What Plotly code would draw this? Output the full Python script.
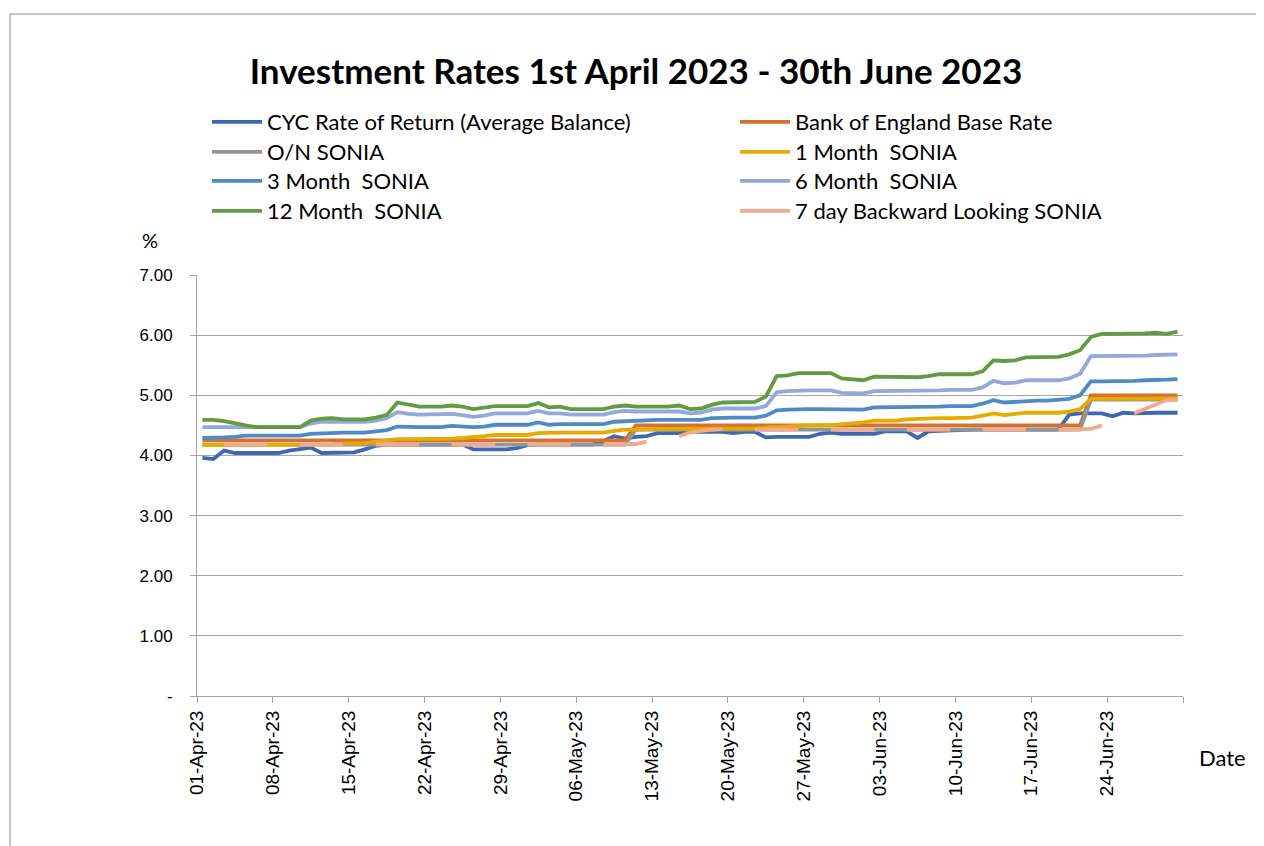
import pandas as pd
import plotly.graph_objects as go

# ---- data -------------------------------------------------------------
dates = pd.date_range("2023-04-01 12:00", "2023-06-30 12:00", freq="D")

tick_dates = ["2023-04-01", "2023-04-08", "2023-04-15", "2023-04-22", "2023-04-29",
              "2023-05-06", "2023-05-13", "2023-05-20", "2023-05-27", "2023-06-03",
              "2023-06-10", "2023-06-17", "2023-06-24", "2023-07-01"]
tick_labels = ["01-Apr-23", "08-Apr-23", "15-Apr-23", "22-Apr-23", "29-Apr-23",
               "06-May-23", "13-May-23", "20-May-23", "27-May-23", "03-Jun-23",
               "10-Jun-23", "17-Jun-23", "24-Jun-23", ""]

y_ticks = [0, 1, 2, 3, 4, 5, 6, 7]
y_labels = ["-", "1.00", "2.00", "3.00", "4.00", "5.00", "6.00", "7.00"]

cyc = [3.96, 3.94, 4.08, 4.04, 4.04, 4.04, 4.04, 4.04, 4.08, 4.11,
       4.13, 4.04, 4.04, 4.04, 4.05, 4.10, 4.16, 4.18, 4.18, 4.18,
       4.18, 4.18, 4.18, 4.18, 4.18, 4.10, 4.10, 4.10, 4.10, 4.12,
       4.17, 4.18, 4.18, 4.18, 4.18, 4.18, 4.18, 4.24, 4.32, 4.28,
       4.31, 4.32, 4.37, 4.37, 4.37, 4.39, 4.39, 4.39, 4.39, 4.37,
       4.39, 4.39, 4.30, 4.31, 4.31, 4.31, 4.31, 4.36, 4.38, 4.36,
       4.36, 4.36, 4.36, 4.40, 4.40, 4.40, 4.29, 4.40, 4.41, 4.42,
       4.43, 4.43, 4.43, 4.43, 4.43, 4.43, 4.43, 4.43, 4.43, 4.43,
       4.68, 4.70, 4.70, 4.70, 4.65, 4.71, 4.70, 4.71, 4.71, 4.71, 4.71]

boe = [4.25, 4.25, 4.25, 4.25, 4.25, 4.25, 4.25, 4.25, 4.25, 4.25,
       4.25, 4.25, 4.25, 4.25, 4.25, 4.25, 4.25, 4.25, 4.25, 4.25,
       4.25, 4.25, 4.25, 4.25, 4.25, 4.25, 4.25, 4.25, 4.25, 4.25,
       4.25, 4.25, 4.25, 4.25, 4.25, 4.25, 4.25, 4.25, 4.25, 4.25,
       4.50, 4.50, 4.50, 4.50, 4.50, 4.50, 4.50, 4.50, 4.50, 4.50,
       4.50, 4.50, 4.50, 4.50, 4.50, 4.50, 4.50, 4.50, 4.50, 4.50,
       4.50, 4.50, 4.50, 4.50, 4.50, 4.50, 4.50, 4.50, 4.50, 4.50,
       4.50, 4.50, 4.50, 4.50, 4.50, 4.50, 4.50, 4.50, 4.50, 4.50,
       4.50, 4.50, 5.00, 5.00, 5.00, 5.00, 5.00, 5.00, 5.00, 5.00, 5.00]

on_sonia = [4.18, 4.18, 4.18, 4.18, 4.18, 4.18, 4.18, 4.18, 4.18, 4.18,
            4.18, 4.18, 4.18, 4.18, 4.18, 4.18, 4.18, 4.18, 4.18, 4.18,
            4.18, 4.18, 4.18, 4.18, 4.18, 4.18, 4.18, 4.18, 4.18, 4.18,
            4.18, 4.18, 4.18, 4.18, 4.18, 4.18, 4.18, 4.18, 4.18, 4.18,
            4.43, 4.43, 4.43, 4.43, 4.43, 4.43, 4.43, 4.43, 4.43, 4.43,
            4.43, 4.43, 4.43, 4.43, 4.43, 4.43, 4.43, 4.43, 4.43, 4.43,
            4.43, 4.43, 4.43, 4.43, 4.43, 4.43, 4.43, 4.43, 4.43, 4.43,
            4.43, 4.43, 4.43, 4.43, 4.43, 4.43, 4.43, 4.43, 4.43, 4.43,
            4.43, 4.43, 4.93, 4.93, 4.93, 4.93, 4.93, 4.93, 4.93, 4.93, 4.93]

m1_sonia = [4.17, 4.17, 4.17, 4.17, 4.17, 4.17, 4.17, 4.17, 4.17, 4.17,
            4.18, 4.18, 4.18, 4.20, 4.20, 4.20, 4.23, 4.25, 4.27, 4.27,
            4.27, 4.27, 4.27, 4.28, 4.29, 4.30, 4.32, 4.34, 4.34, 4.34,
            4.34, 4.37, 4.38, 4.38, 4.38, 4.38, 4.38, 4.38, 4.41, 4.43,
            4.43, 4.44, 4.44, 4.44, 4.44, 4.45, 4.44, 4.44, 4.44, 4.44,
            4.44, 4.45, 4.46, 4.47, 4.48, 4.50, 4.50, 4.50, 4.50, 4.52,
            4.53, 4.55, 4.58, 4.58, 4.58, 4.60, 4.61, 4.61, 4.62, 4.62,
            4.62, 4.63, 4.66, 4.70, 4.67, 4.69, 4.71, 4.71, 4.71, 4.71,
            4.73, 4.77, 4.94, 4.94, 4.94, 4.94, 4.94, 4.94, 4.95, 4.95, 4.95]

m3_sonia = [4.29, 4.29, 4.30, 4.31, 4.33, 4.33, 4.33, 4.33, 4.33, 4.33,
            4.36, 4.37, 4.37, 4.38, 4.38, 4.38, 4.40, 4.42, 4.48, 4.47,
            4.47, 4.47, 4.47, 4.49, 4.48, 4.47, 4.48, 4.51, 4.51, 4.51,
            4.51, 4.55, 4.51, 4.52, 4.52, 4.52, 4.52, 4.52, 4.56, 4.57,
            4.58, 4.59, 4.59, 4.59, 4.59, 4.58, 4.59, 4.62, 4.63, 4.63,
            4.63, 4.63, 4.66, 4.75, 4.76, 4.77, 4.77, 4.77, 4.77, 4.77,
            4.77, 4.76, 4.80, 4.80, 4.80, 4.80, 4.80, 4.81, 4.81, 4.82,
            4.82, 4.82, 4.86, 4.92, 4.88, 4.89, 4.91, 4.91, 4.91, 4.92,
            4.94, 5.00, 5.23, 5.23, 5.23, 5.23, 5.24, 5.25, 5.25, 5.26, 5.27]

m6_sonia = [4.47, 4.47, 4.47, 4.47, 4.47, 4.47, 4.47, 4.47, 4.47, 4.47,
            4.53, 4.56, 4.56, 4.56, 4.56, 4.56, 4.58, 4.62, 4.72, 4.69,
            4.68, 4.68, 4.68, 4.69, 4.67, 4.64, 4.66, 4.70, 4.70, 4.70,
            4.70, 4.74, 4.70, 4.70, 4.68, 4.68, 4.68, 4.68, 4.72, 4.74,
            4.73, 4.73, 4.73, 4.73, 4.73, 4.70, 4.71, 4.76, 4.78, 4.78,
            4.78, 4.78, 4.82, 5.05, 5.07, 5.08, 5.08, 5.08, 5.08, 5.04,
            5.03, 5.03, 5.07, 5.07, 5.07, 5.07, 5.07, 5.08, 5.08, 5.09,
            5.09, 5.09, 5.13, 5.24, 5.20, 5.21, 5.25, 5.25, 5.25, 5.25,
            5.28, 5.36, 5.65, 5.65, 5.65, 5.65, 5.66, 5.66, 5.67, 5.68, 5.68]

m12_sonia = [4.59, 4.59, 4.57, 4.53, 4.50, 4.47, 4.47, 4.47, 4.47, 4.47,
             4.58, 4.61, 4.62, 4.60, 4.60, 4.60, 4.63, 4.67, 4.88, 4.85,
             4.81, 4.81, 4.81, 4.83, 4.81, 4.77, 4.79, 4.82, 4.82, 4.82,
             4.82, 4.87, 4.80, 4.81, 4.77, 4.77, 4.77, 4.77, 4.81, 4.83,
             4.81, 4.81, 4.81, 4.81, 4.83, 4.77, 4.78, 4.84, 4.88, 4.88,
             4.88, 4.89, 4.98, 5.32, 5.33, 5.37, 5.37, 5.37, 5.37, 5.28,
             5.27, 5.25, 5.31, 5.31, 5.31, 5.31, 5.30, 5.32, 5.35, 5.35,
             5.35, 5.35, 5.40, 5.58, 5.57, 5.58, 5.63, 5.63, 5.63, 5.64,
             5.68, 5.75, 5.97, 6.02, 6.02, 6.02, 6.03, 6.03, 6.04, 6.02, 6.06]

d7_sonia = [None, None, 4.18, 4.18, 4.18, 4.18, 4.18, None, None, 4.18,
            4.18, 4.18, 4.18, 4.18, None, None, 4.18, 4.18, 4.18, 4.18,
            4.18, None, None, 4.18, 4.18, 4.18, 4.18, 4.18, None, None,
            4.18, 4.18, 4.18, 4.18, 4.18, None, None, 4.18, 4.18, 4.18,
            4.19, 4.23, None, None, 4.32, 4.38, 4.41, 4.43, 4.44, None,
            None, 4.43, 4.43, 4.43, 4.43, 4.43, None, None, 4.43, 4.43,
            4.43, 4.43, 4.43, None, None, 4.43, 4.43, 4.43, 4.43, 4.43,
            None, None, 4.43, 4.43, 4.43, 4.43, 4.43, None, None, 4.43,
            4.43, 4.43, 4.44, 4.50, None, None, 4.70, 4.77, 4.85, 4.92, 4.93]

series_names = ["CYC Rate of Return (Average Balance)", "Bank of England Base Rate",
                "O/N SONIA", "1 Month  SONIA", "3 Month  SONIA", "6 Month  SONIA",
                "12 Month  SONIA", "7 day Backward Looking SONIA"]
series_values = [cyc, boe, on_sonia, m1_sonia, m3_sonia, m6_sonia, m12_sonia, d7_sonia]
series_colors = ["#3E68B1", "#D7712E", "#959595", "#E5AB00",
                 "#4E8BC5", "#93A9DB", "#629B40", "#F3A98B"]

# ---- layout geometry (page pixels; the page puts the figure at 8,8) ------
OFF = 8
W, H = 1264 - OFF, 846 - OFF
L, T = 197 - OFF, 275 - OFF
R = W - (1183 - OFF)
B = H - (696 - OFF)
PW, PH = W - L - R, H - T - B


def px(xpage):
    return (xpage - OFF - L) / PW


def py(ypage):
    return (H - B - (ypage - OFF)) / PH


# legend slots: (left of item in page px, row centre in page px)
leg_cols = [207, 735]
leg_rows = [122, 152, 181, 211]

fig = go.Figure()
legend_layouts = {}
for i, (name, vals, col) in enumerate(zip(series_names, series_values, series_colors)):
    key = "legend" if i == 0 else f"legend{i + 1}"
    fig.add_trace(go.Scatter(
        x=dates, y=vals, name=name, mode="lines",
        line=dict(color=col, width=3.8),
        connectgaps=False, legend=key, hoverinfo="skip",
    ))
    legend_layouts[key] = dict(
        x=px(leg_cols[i % 2]), y=py(leg_rows[i // 2]),
        xanchor="left", yanchor="middle",
        font=dict(family="Lato", size=22, color="black"),
        itemwidth=50, bgcolor="rgba(0,0,0,0)",
    )

fig.update_layout(
    width=W, height=H,
    margin=dict(l=L, r=R, t=T, b=B, pad=0),
    paper_bgcolor="white", plot_bgcolor="white",
    title=dict(text="<b>Investment Rates 1st April 2023 - 30th June 2023</b>",
               x=(636 - OFF) / W, xanchor="center", xref="container",
               y=1 - (72 - OFF) / H, yanchor="middle", yref="container",
               font=dict(family="Lato", size=35, color="black")),
    xaxis=dict(
        type="date",
        range=["2023-04-01", "2023-07-01"],
        tickvals=tick_dates, ticktext=tick_labels,
        tickangle=-90,
        tickfont=dict(family="Liberation Sans", size=19, color="black"),
        ticks="outside", ticklen=6, tickcolor="#A6A6A6", tickwidth=1,
        showgrid=False, showline=True, linecolor="#A6A6A6", linewidth=1,
        zeroline=False,
    ),
    yaxis=dict(
        range=[0, 7],
        tickvals=y_ticks, ticktext=y_labels,
        tickfont=dict(family="Liberation Sans", size=17, color="black"),
        ticks="outside", ticklen=6, tickcolor="#A6A6A6", tickwidth=1,
        showgrid=True, gridcolor="#A6A6A6", gridwidth=1,
        showline=True, linecolor="#A6A6A6", linewidth=1,
        zeroline=False, ticklabelstandoff=14,
    ),
    showlegend=True,
    **legend_layouts,
)

fig.add_annotation(text="%", x=px(140), y=py(240), xref="paper", yref="paper",
                   showarrow=False, xanchor="left", yanchor="middle",
                   font=dict(family="Lato", size=20, color="black"))
fig.add_annotation(text="Date", x=px(1222), y=py(757), xref="paper", yref="paper",
                   showarrow=False, xanchor="center", yanchor="middle",
                   font=dict(family="Lato", size=22, color="black"))

# chart-area border (top and left edges; the rest lies outside the page)
fig.add_shape(type="line", xref="paper", yref="paper",
              x0=px(10), x1=px(1400), y0=py(14), y1=py(14),
              line=dict(color="#8C8C8C", width=1), layer="below")
fig.add_shape(type="line", xref="paper", yref="paper",
              x0=px(10), x1=px(10), y0=py(14), y1=py(1000),
              line=dict(color="#8C8C8C", width=1), layer="below")

fig.write_html("out.html")
